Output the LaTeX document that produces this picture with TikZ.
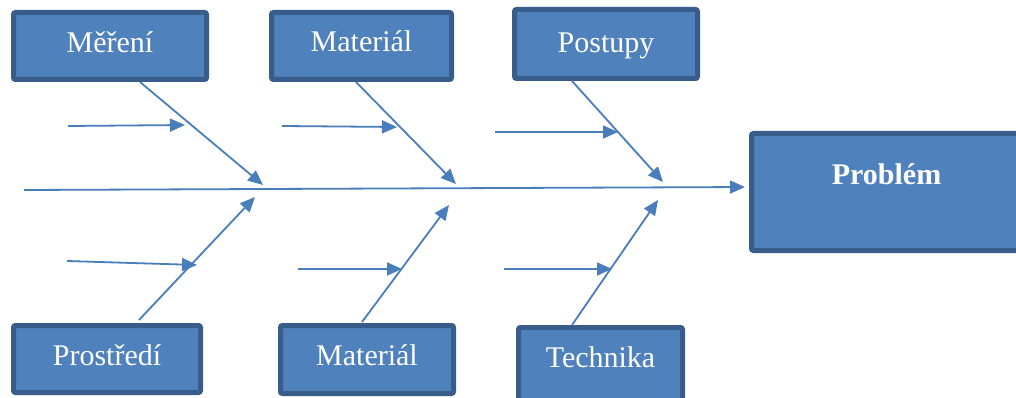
\documentclass[tikz,border=0pt]{standalone}
\usepackage{fontspec}
\setmainfont{Liberation Serif}
\usetikzlibrary{arrows.meta}
\definecolor{boxfill}{HTML}{4F81BD}
\definecolor{boxline}{HTML}{385D8A}
\definecolor{arrowcol}{HTML}{4A7EBB}
\begin{document}
\begin{tikzpicture}[x=1pt,y=-1pt,
  box/.style={draw=boxline, fill=boxfill, line width=5pt, rounded corners=2pt,
    inner sep=0pt, anchor=base, text=white, align=center,
    font=\fontsize{30}{34}\selectfont},
  conn/.style={draw=arrowcol, line width=1.8pt,
    -{Triangle[length=15pt,width=13pt]}}
]
\clip (0,0) rectangle (1016,398);
\fill[white] (0,0) rectangle (1016,398);

% cause boxes (top)
\node[box, minimum width=193pt, text height=40.5pt, text depth=26.5pt] (mer) at (110,53) {Měření};
\node[box, minimum width=180pt, text height=39.5pt, text depth=27.5pt] (mat1) at (361.5,52) {Materiál};
\node[box, minimum width=183pt, text height=43.5pt, text depth=25.5pt] (post) at (606,53) {Postupy};
% effect box
\node[box, minimum width=270pt, text height=51.5pt, text depth=65.5pt, font=\fontsize{30}{34}\selectfont\bfseries] (prob) at (886.5,185) {Problém};
% cause boxes (bottom)
\node[box, minimum width=187pt, text height=39.5pt, text depth=27.5pt] (pros) at (107,365) {Prostředí};
\node[box, minimum width=173pt, text height=39.5pt, text depth=28.5pt] (mat2) at (367,365) {Materiál};
\node[box, minimum width=164pt, text height=39.5pt, text depth=35.5pt] (tech) at (600.5,367) {Technika};

% spine
\coordinate (spineS) at (24,190);
\draw[conn, shorten >=4pt] (spineS) -- (prob.west |- 0,187);

% bone tips
\coordinate (t1) at (263,185);
\coordinate (t2) at (456,184);
\coordinate (t3) at (663,182);
\coordinate (t4) at (255,197);
\coordinate (t5) at (449,205);
\coordinate (t6) at (658,200);

\draw[conn] ([xshift=30pt]mer.south) -- (t1);
\draw[conn] ([xshift=-5.5pt]mat1.south) -- (t2);
\draw[conn] ([xshift=-34pt]post.south) -- (t3);
\draw[conn] ([xshift=32pt,yshift=3pt]pros.north) -- (t4);
\draw[conn] ([xshift=-5pt,yshift=1pt]mat2.north) -- (t5);
\draw[conn] ([xshift=-28.5pt]tech.north) -- (t6);

% sub-cause arrows
\coordinate (s1a) at (68,126);  \coordinate (s1b) at (185,125);
\coordinate (s2a) at (282,126); \coordinate (s2b) at (397,127);
\coordinate (s3a) at (495,132); \coordinate (s3b) at (618,132);
\coordinate (s4a) at (67,261);  \coordinate (s4b) at (197,265);
\coordinate (s5a) at (298,269); \coordinate (s5b) at (402,269);
\coordinate (s6a) at (504,269); \coordinate (s6b) at (612,269);
\draw[conn] (s1a) -- (s1b);
\draw[conn] (s2a) -- (s2b);
\draw[conn] (s3a) -- (s3b);
\draw[conn] (s4a) -- (s4b);
\draw[conn] (s5a) -- (s5b);
\draw[conn] (s6a) -- (s6b);
\end{tikzpicture}
\end{document}
